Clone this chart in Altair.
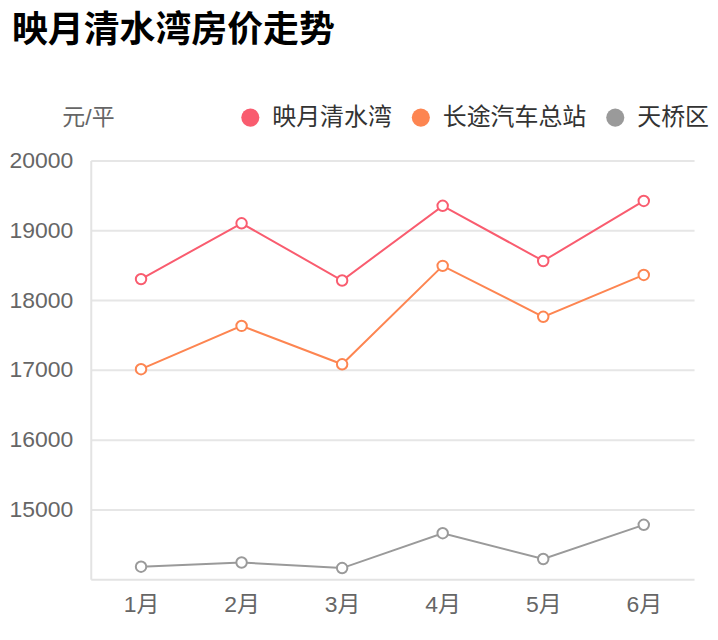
import altair as alt
import pandas as pd

months = ["1月", "2月", "3月", "4月", "5月", "6月"]
series_names = ["映月清水湾", "长途汽车总站", "天桥区"]
yingyue = [18300, 19100, 18280, 19350, 18560, 19420]
changtu = [17010, 17630, 17080, 18490, 17760, 18360]
tianqiao = [14180, 14240, 14160, 14660, 14290, 14780]
colors = ["#f95c6f", "#fd8551", "#9a9a9a"]
y_ticks = [15000, 16000, 17000, 18000, 19000, 20000]

rows = []
for name, vals in zip(series_names, [yingyue, changtu, tianqiao]):
    for m, v in zip(months, vals):
        rows.append({"月份": m, "房价": v, "区域": name})
df = pd.DataFrame(rows)

FONT = "Liberation Sans, 'Noto Sans CJK SC', sans-serif"

x = alt.X("月份:O", sort=months, scale=alt.Scale(padding=0.5),
          axis=alt.Axis(title=None, labelAngle=0, labelFontSize=23, labelColor="#666666",
                        labelPadding=14, ticks=False, domainColor="#e3e3e3", domainWidth=2,
                        labelFont=FONT))
y = alt.Y("房价:Q", scale=alt.Scale(domain=[14000, 20000], nice=False, zero=False),
          axis=alt.Axis(values=y_ticks, format="d", title="元/平", titleAngle=0, titleX=-29,
                        titleY=-43, titleAlign="left", titleBaseline="middle", titleFontSize=23,
                        titleFontWeight="normal", titleColor="#666666", titleFont=FONT,
                        labelFontSize=23, labelColor="#666666", labelPadding=18, ticks=False,
                        domainColor="#e3e3e3", domainWidth=2, gridColor="#e6e6e6", gridWidth=2,
                        labelFont=FONT))
cscale = alt.Scale(domain=series_names, range=colors)
color = alt.Color("区域:N", sort=series_names, scale=cscale, legend=None)

legend_fill = alt.Fill("区域:N", sort=series_names, scale=cscale,
                       legend=alt.Legend(title=None, orient="none", legendX=148, legendY=-55,
                                         direction="horizontal", symbolType="circle",
                                         symbolSize=330, symbolStrokeWidth=0, symbolOpacity=1,
                                         labelFontSize=24, labelColor="#333333", labelOffset=10,
                                         columnPadding=17, padding=0, labelFont=FONT))

base = alt.Chart(df).encode(x=x, y=y)
legend_layer = base.mark_circle(opacity=0, size=1).encode(fill=legend_fill)
lines = base.mark_line(strokeWidth=2).encode(color=color)
points = base.mark_point(shape="circle", filled=False, fill="white", fillOpacity=1,
                         size=110, strokeWidth=2, opacity=1).encode(color=color)

chart = alt.layer(legend_layer, lines, points).properties(
    width=605, height=420,
    title=alt.TitleParams("映月清水湾房价走势", anchor="start", frame="group", fontSize=36,
                          fontWeight="bold", color="#000000", font=FONT, dx=-79, offset=56),
    autosize=alt.AutoSizeParams(type="none"),
    padding={"left": 83, "top": 152, "right": 16, "bottom": 55},
).resolve_scale(color="independent", fill="independent").configure_view(stroke=None)

chart.save("out.html", embed_options={"renderer": "svg", "actions": False})
